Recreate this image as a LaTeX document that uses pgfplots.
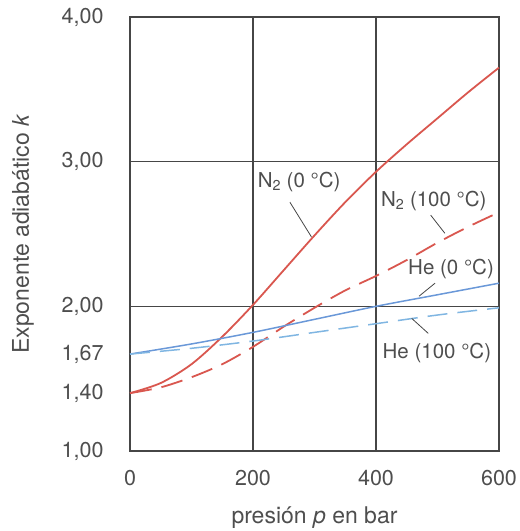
\documentclass[border=0pt]{standalone}
\usepackage{fontspec}
\setmainfont{TeX Gyre Heros}
\usepackage{pgfplots}
\pgfplotsset{compat=1.18}
\definecolor{nred}{HTML}{D9574F}
\definecolor{hblue}{HTML}{6A98D8}
\definecolor{hlblue}{HTML}{80B6E2}
\definecolor{gridg}{HTML}{464646}
\definecolor{txtg}{HTML}{4E4E4E}
\begin{document}
\begin{tikzpicture}
\useasboundingbox (-130pt,-80pt) rectangle (390pt,451pt);
\begin{axis}[
  scale only axis, width=369pt, height=434pt,
  xmin=0, xmax=600, ymin=1, ymax=4,
  clip=false,
  xtick={0,200,400,600},
  xticklabels={0,200,400,600},
  ytick={2,3},
  yticklabels={},
  extra y ticks={1,1.4,1.67,2,3,4},
  extra y tick labels={{1,00\kern23pt},{1,40\kern23pt},{1,67\kern23pt},{2,00\kern23pt},{3,00\kern23pt},{4,00\kern23pt}},
  extra y tick style={ymajorgrids=false},
  major tick length=0pt,
  xmajorgrids, ymajorgrids,
  major grid style={line width=1.2pt, gridg},
  axis line style={line width=1.7pt, gridg},
  tick label style={font=\fontsize{21.5}{24}\selectfont, text=txtg},
  xticklabel style={yshift=-16pt},
  xlabel={presión \textit{p} en bar},
  ylabel={Exponente adiabático \textit{k}},
  label style={font=\fontsize{23}{26}\selectfont, text=txtg},
  xlabel style={at={(axis description cs:0.5,-0.154)}, anchor=center},
  ylabel style={at={(axis description cs:-0.29,0.5)}, anchor=center},
]
% N2 (0 C)
\addplot[nred, line width=1.8pt, smooth, tension=0.5] coordinates {
 (0,1.40) (50,1.47) (100,1.60) (150,1.79) (200,2.01) (250,2.25) (300,2.49)
 (350,2.72) (400,2.93) (450,3.12) (500,3.30) (550,3.48) (600,3.65)};
% N2 (100 C)
\addplot[nred, line width=1.8pt, smooth, tension=0.5, dash pattern=on 22pt off 10pt] coordinates {
 (0,1.40) (50,1.44) (100,1.51) (150,1.60) (200,1.72) (250,1.86) (300,1.99)
 (350,2.11) (400,2.21) (450,2.32) (500,2.44) (550,2.55) (600,2.65)};
% He (0 C)
\addplot[hblue, line width=1.5pt, smooth] coordinates {
 (0,1.67) (100,1.74) (200,1.82) (300,1.91) (400,2.00) (500,2.08) (600,2.16)};
% He (100 C)
\addplot[hlblue, line width=1.5pt, smooth, dash pattern=on 20pt off 10pt] coordinates {
 (0,1.67) (100,1.71) (200,1.76) (300,1.82) (400,1.88) (500,1.94) (600,1.99)};
% annotations
\begin{scope}[every node/.style={font=\fontsize{20.5}{24}\selectfont, text=txtg}]
\node at (axis cs:275,2.86) {N\textsubscript{2} (0 °C)};
\node at (axis cs:494,2.73) {N\textsubscript{2} (100 °C)};
\node at (axis cs:522,2.256) {He (0 °C)};
\node at (axis cs:499,1.68) {He (100 °C)};
\end{scope}
\draw[gridg, line width=0.8pt] (axis cs:260,2.72) -- (axis cs:295,2.48);
\draw[gridg, line width=0.8pt] (axis cs:489,2.63) -- (axis cs:512,2.505);
\draw[gridg, line width=0.8pt] (axis cs:496,2.16) -- (axis cs:470,2.07);
\draw[gridg, line width=0.8pt] (axis cs:458,1.917) -- (axis cs:485,1.813);
\end{axis}
\end{tikzpicture}
\end{document}
